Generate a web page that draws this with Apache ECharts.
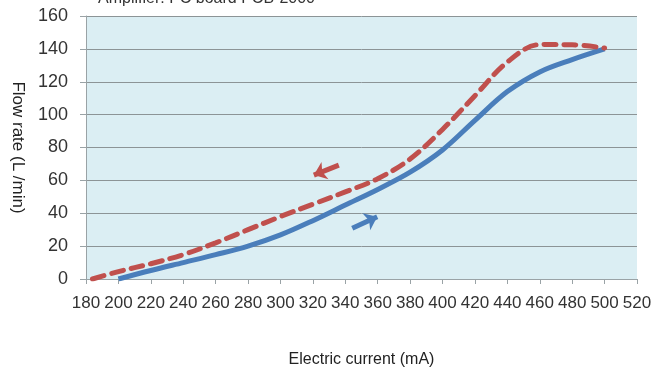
<!DOCTYPE html>
<html>
<head>
<meta charset="utf-8">
<script src="https://cdn.jsdelivr.net/npm/echarts@6/dist/echarts.min.js"></script>
<style>html,body{margin:0;padding:0;background:#fff}#c{width:651px;height:367px}</style>
</head>
<body>
<div id="c"></div>
<script>
// Increasing current (solid blue)
var upCurrent = [200, 220, 240, 260, 280, 300, 320, 340, 360, 380, 400, 420, 440, 460, 480, 500];
var upFlow    = [0, 5.2, 10, 14.8, 20, 26.8, 35.5, 45, 54.5, 65, 78.5, 96.5, 114, 126, 133.5, 140];
// Decreasing current (dashed red)
var downCurrent = [184, 200, 220, 240, 260, 280, 300, 320, 340, 360, 380, 400, 420, 440, 460, 480, 500];
var downFlow    = [0, 4.5, 9.3, 14.8, 22, 30, 38, 45.5, 53, 61, 73, 91, 111.5, 132, 142.6, 142.5, 140.5];
// Direction arrows [x, y] tail -> head
var downArrow = [[336, 69.3], [320.6, 63.2]];
var upArrow = [[344.3, 30.9], [359.7, 37.9]];
var xTicks = {min: 180, max: 520, interval: 20};
var yTicks = {min: 0, max: 160, interval: 20};
var titleText = 'Amplifier: PC board PCB-2000';

function zip(a, b) { return a.map(function (v, i) { return [v, b[i]]; }); }

var chart = echarts.init(document.getElementById('c'));
chart.setOption({
  animation: false,
  textStyle: {fontFamily: 'Liberation Sans, Arial, sans-serif'},
  graphic: [{
    type: 'text', left: 98, top: -9,
    style: {text: titleText, font: '16px Liberation Sans', fill: '#333'}
  }],
  grid: {left: 86, right: 14, top: 16, bottom: 88, show: true, backgroundColor: '#dbeef3', borderWidth: 0,
         containLabel: false, outerBoundsMode: 'none'},
  xAxis: {
    type: 'value', min: xTicks.min, max: xTicks.max, interval: xTicks.interval,
    name: 'Electric current (mA)', nameLocation: 'middle', nameGap: 73,
    nameTextStyle: {fontSize: 16, color: '#222'},
    axisLine: {show: true, lineStyle: {color: '#9aa3a6', width: 1}},
    axisTick: {show: true, length: 5, lineStyle: {color: '#9aa3a6'}},
    axisLabel: {fontSize: 17, color: '#333', margin: 16},
    splitLine: {show: false}
  },
  yAxis: {
    type: 'value', min: yTicks.min, max: yTicks.max, interval: yTicks.interval,
    name: 'Flow rate (L /min)', nameLocation: 'middle', nameGap: 60, nameRotate: -90,
    nameTextStyle: {fontSize: 17, color: '#222'},
    axisLine: {show: true, lineStyle: {color: '#9aa3a6', width: 1}},
    axisTick: {show: true, length: 6, lineStyle: {color: '#9aa3a6'}},
    axisLabel: {fontSize: 18, color: '#333', margin: 18},
    splitLine: {show: true, lineStyle: {color: '#8c9496', width: 1}}
  },
  series: [
    {
      type: 'line', data: zip(upCurrent, upFlow), smooth: 0.35, showSymbol: false,
      lineStyle: {color: '#4a7ebb', width: 5}, z: 3,
      markLine: {
        silent: true, symbol: ['none', 'arrow'], symbolSize: [14, 12], label: {show: false},
        lineStyle: {color: '#4a7ebb', width: 5, type: 'solid'},
        data: [[{coord: upArrow[0]}, {coord: upArrow[1]}]]
      }
    },
    {
      type: 'line', data: zip(downCurrent, downFlow), smooth: 0.35, showSymbol: false,
      lineStyle: {color: '#c0504d', width: 5, type: [12, 8], cap: 'round'}, z: 4,
      markLine: {
        silent: true, symbol: ['none', 'arrow'], symbolSize: [14, 12], label: {show: false},
        lineStyle: {color: '#c0504d', width: 5, type: 'solid'},
        data: [[{coord: downArrow[0]}, {coord: downArrow[1]}]]
      }
    }
  ]
});
</script>
</body>
</html>
